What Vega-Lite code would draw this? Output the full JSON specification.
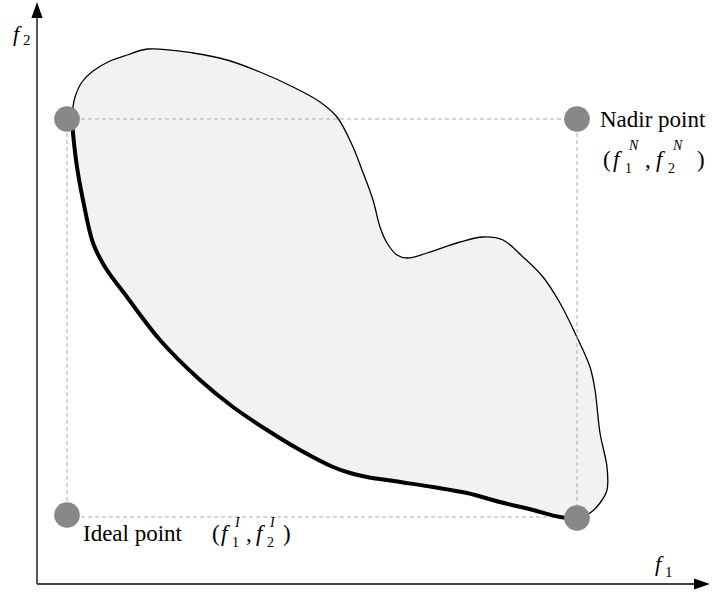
{
  "$schema": "https://vega.github.io/schema/vega-lite/v6.json",
  "width": 717,
  "height": 592,
  "autosize": {"type": "fit", "contains": "padding"},
  "padding": 0,
  "background": "white",
  "config": {"view": {"stroke": null}, "text": {"font": "'Liberation Serif', 'Times New Roman', 'DejaVu Serif', serif"}},
  "datasets": {
    "blob": [
      {"i": 0, "f1": 35, "f2": 466}, {"i": 1, "f1": 36, "f2": 477}, {"i": 2, "f1": 38, "f2": 487}, {"i": 3, "f1": 45, "f2": 502},
      {"i": 4, "f1": 56, "f2": 513}, {"i": 5, "f1": 73, "f2": 523}, {"i": 6, "f1": 90, "f2": 529}, {"i": 7, "f1": 111, "f2": 535},
      {"i": 8, "f1": 156, "f2": 531}, {"i": 9, "f1": 190, "f2": 524}, {"i": 10, "f1": 223, "f2": 512},
      {"i": 11, "f1": 256, "f2": 497}, {"i": 12, "f1": 283, "f2": 482}, {"i": 13, "f1": 300, "f2": 467}, {"i": 14, "f1": 316, "f2": 437},
      {"i": 15, "f1": 325, "f2": 414}, {"i": 16, "f1": 336, "f2": 384}, {"i": 17, "f1": 343, "f2": 357}, {"i": 18, "f1": 350, "f2": 341},
      {"i": 19, "f1": 360, "f2": 329}, {"i": 20, "f1": 370, "f2": 326}, {"i": 21, "f1": 390, "f2": 331}, {"i": 22, "f1": 423, "f2": 342},
      {"i": 23, "f1": 446, "f2": 347}, {"i": 24, "f1": 466, "f2": 344}, {"i": 25, "f1": 486, "f2": 327}, {"i": 26, "f1": 506, "f2": 307},
      {"i": 27, "f1": 523, "f2": 281}, {"i": 28, "f1": 538, "f2": 251}, {"i": 29, "f1": 553, "f2": 217}, {"i": 30, "f1": 558, "f2": 194},
      {"i": 31, "f1": 563, "f2": 151}, {"i": 32, "f1": 570, "f2": 117}, {"i": 33, "f1": 570, "f2": 94}, {"i": 34, "f1": 563, "f2": 81},
      {"i": 35, "f1": 553, "f2": 71}, {"i": 36, "f1": 540, "f2": 66}, {"i": 37, "f1": 523, "f2": 67}, {"i": 38, "f1": 496, "f2": 74},
      {"i": 39, "f1": 463, "f2": 82}, {"i": 40, "f1": 430, "f2": 91}, {"i": 41, "f1": 396, "f2": 97}, {"i": 42, "f1": 363, "f2": 102},
      {"i": 43, "f1": 330, "f2": 107}, {"i": 44, "f1": 313, "f2": 111}, {"i": 45, "f1": 296, "f2": 117}, {"i": 46, "f1": 263, "f2": 134},
      {"i": 47, "f1": 230, "f2": 154}, {"i": 48, "f1": 196, "f2": 177}, {"i": 49, "f1": 163, "f2": 204}, {"i": 50, "f1": 123, "f2": 244},
      {"i": 51, "f1": 90, "f2": 287}, {"i": 52, "f1": 68, "f2": 317}, {"i": 53, "f1": 56, "f2": 341}, {"i": 54, "f1": 46, "f2": 384},
      {"i": 55, "f1": 40, "f2": 417}, {"i": 56, "f1": 36, "f2": 451}, {"i": 57, "f1": 35, "f2": 466}
    ],
    "front": [
      {"i": 0, "f1": 540, "f2": 66}, {"i": 1, "f1": 523, "f2": 67}, {"i": 2, "f1": 496, "f2": 74}, {"i": 3, "f1": 463, "f2": 82},
      {"i": 4, "f1": 430, "f2": 91}, {"i": 5, "f1": 396, "f2": 97}, {"i": 6, "f1": 363, "f2": 102}, {"i": 7, "f1": 330, "f2": 107},
      {"i": 8, "f1": 313, "f2": 111}, {"i": 9, "f1": 296, "f2": 117}, {"i": 10, "f1": 263, "f2": 134}, {"i": 11, "f1": 230, "f2": 154},
      {"i": 12, "f1": 196, "f2": 177}, {"i": 13, "f1": 163, "f2": 204}, {"i": 14, "f1": 123, "f2": 244}, {"i": 15, "f1": 90, "f2": 287},
      {"i": 16, "f1": 68, "f2": 317}, {"i": 17, "f1": 56, "f2": 341}, {"i": 18, "f1": 46, "f2": 384}, {"i": 19, "f1": 40, "f2": 417},
      {"i": 20, "f1": 36, "f2": 451}, {"i": 21, "f1": 35, "f2": 466}
    ],
    "dashed": [
      {"f1": 30, "f2": 465, "f1e": 540, "f2e": 465},
      {"f1": 540, "f2": 465, "f1e": 540, "f2e": 66},
      {"f1": 30, "f2": 67, "f1e": 540, "f2e": 67},
      {"f1": 30, "f2": 465, "f1e": 30, "f2e": 69}
    ],
    "points": [
      {"name": "top-left", "f1": 30, "f2": 465},
      {"name": "nadir", "f1": 540, "f2": 465},
      {"name": "ideal", "f1": 30, "f2": 69},
      {"name": "bottom-right", "f1": 540, "f2": 66}
    ],
    "axes": [
      {"axis": "f2", "f1": 0, "f2": 0, "f1e": 0, "f2e": 567},
      {"axis": "f1", "f1": 0, "f2": 0, "f1e": 658, "f2e": 0}
    ],
    "arrows": [
      {"axis": "f2", "f1": 0, "f2": 574},
      {"axis": "f1", "f1": 665, "f2": 0}
    ],
    "labels": [
      {"kind": "axisf", "label": "f", "f1": -24, "f2": 543},
      {"kind": "axissub", "label": "2", "f1": -14, "f2": 539},
      {"kind": "axisf", "label": "f", "f1": 618, "f2": 13},
      {"kind": "axissub", "label": "1", "f1": 628, "f2": 7},
      {"kind": "text", "label": "Nadir point", "f1": 563, "f2": 457},
      {"kind": "text", "label": "(", "f1": 566, "f2": 417},
      {"kind": "italic", "label": "f", "f1": 576, "f2": 417},
      {"kind": "sub", "label": "1", "f1": 588, "f2": 411},
      {"kind": "sup", "label": "N", "f1": 592, "f2": 434},
      {"kind": "text", "label": ",", "f1": 608, "f2": 417},
      {"kind": "italic", "label": "f", "f1": 619, "f2": 417},
      {"kind": "sub", "label": "2", "f1": 631, "f2": 411},
      {"kind": "sup", "label": "N", "f1": 636, "f2": 434},
      {"kind": "text", "label": ")", "f1": 660, "f2": 417},
      {"kind": "text", "label": "Ideal point", "f1": 46, "f2": 43},
      {"kind": "text", "label": "(", "f1": 175, "f2": 43},
      {"kind": "italic", "label": "f", "f1": 184, "f2": 43},
      {"kind": "sub", "label": "1", "f1": 195, "f2": 37},
      {"kind": "sup", "label": "I", "f1": 198, "f2": 57},
      {"kind": "text", "label": ",", "f1": 209, "f2": 43},
      {"kind": "italic", "label": "f", "f1": 219, "f2": 43},
      {"kind": "sub", "label": "2", "f1": 230, "f2": 37},
      {"kind": "sup", "label": "I", "f1": 233, "f2": 57},
      {"kind": "text", "label": ")", "f1": 246, "f2": 43}
    ]
  },
  "encoding": {
    "x": {"field": "f1", "type": "quantitative", "scale": {"domain": [-37, 680], "nice": false, "zero": false}, "axis": null},
    "y": {"field": "f2", "type": "quantitative", "scale": {"domain": [-8, 584], "nice": false, "zero": false}, "axis": null}
  },
  "layer": [
    {
      "data": {"name": "blob"},
      "mark": {"type": "line", "fill": "#f2f2f2", "stroke": "#000000", "strokeWidth": 1.3, "interpolate": "catmull-rom"},
      "encoding": {"order": {"field": "i", "type": "quantitative"}}
    },
    {
      "data": {"name": "dashed"},
      "mark": {"type": "rule", "stroke": "#aaaaaa", "strokeWidth": 1, "strokeDash": [4, 3]},
      "encoding": {"x2": {"field": "f1e"}, "y2": {"field": "f2e"}}
    },
    {
      "data": {"name": "front"},
      "mark": {"type": "line", "stroke": "#000000", "strokeWidth": 4, "interpolate": "catmull-rom", "strokeCap": "round"},
      "encoding": {"order": {"field": "i", "type": "quantitative"}}
    },
    {
      "data": {"name": "points"},
      "mark": {"type": "point", "shape": "circle", "filled": true, "opacity": 1, "size": 660, "color": "#888888", "strokeWidth": 0}
    },
    {
      "data": {"name": "axes"},
      "transform": [{"filter": "datum.axis === 'f2'"}],
      "mark": {"type": "rule", "stroke": "#000000", "strokeWidth": 1.3},
      "encoding": {"x2": {"field": "f1e"}, "y2": {"field": "f2e"}}
    },
    {
      "data": {"name": "axes"},
      "transform": [{"filter": "datum.axis === 'f1'"}],
      "mark": {"type": "rule", "stroke": "#444444", "strokeWidth": 1.8},
      "encoding": {"x2": {"field": "f1e"}, "y2": {"field": "f2e"}}
    },
    {
      "data": {"name": "arrows"},
      "transform": [{"filter": "datum.axis === 'f2'"}],
      "mark": {"type": "point", "shape": "M0,-1L0.7,1L-0.7,1Z", "filled": true, "opacity": 1, "size": 256, "color": "#000000", "strokeWidth": 0}
    },
    {
      "data": {"name": "arrows"},
      "transform": [{"filter": "datum.axis === 'f1'"}],
      "mark": {"type": "point", "shape": "M1,0L-1,0.7L-1,-0.7Z", "filled": true, "opacity": 1, "size": 256, "color": "#000000", "strokeWidth": 0}
    },
    {
      "data": {"name": "labels"},
      "transform": [{"filter": "datum.kind === 'text'"}],
      "mark": {"type": "text", "fontSize": 23, "align": "left", "baseline": "alphabetic", "color": "#000000"},
      "encoding": {"text": {"field": "label"}}
    },
    {
      "data": {"name": "labels"},
      "transform": [{"filter": "datum.kind === 'italic'"}],
      "mark": {"type": "text", "fontStyle": "italic", "fontSize": 23, "align": "left", "baseline": "alphabetic", "color": "#000000"},
      "encoding": {"text": {"field": "label"}}
    },
    {
      "data": {"name": "labels"},
      "transform": [{"filter": "datum.kind === 'sub'"}],
      "mark": {"type": "text", "fontSize": 14, "align": "left", "baseline": "alphabetic", "color": "#000000"},
      "encoding": {"text": {"field": "label"}}
    },
    {
      "data": {"name": "labels"},
      "transform": [{"filter": "datum.kind === 'sup'"}],
      "mark": {"type": "text", "fontStyle": "italic", "fontSize": 14, "align": "left", "baseline": "alphabetic", "color": "#000000"},
      "encoding": {"text": {"field": "label"}}
    },
    {
      "data": {"name": "labels"},
      "transform": [{"filter": "datum.kind === 'axisf'"}],
      "mark": {"type": "text", "fontStyle": "italic", "fontSize": 22, "align": "left", "baseline": "alphabetic", "color": "#000000"},
      "encoding": {"text": {"field": "label"}}
    },
    {
      "data": {"name": "labels"},
      "transform": [{"filter": "datum.kind === 'axissub'"}],
      "mark": {"type": "text", "fontSize": 15, "align": "left", "baseline": "alphabetic", "color": "#000000"},
      "encoding": {"text": {"field": "label"}}
    }
  ]
}
